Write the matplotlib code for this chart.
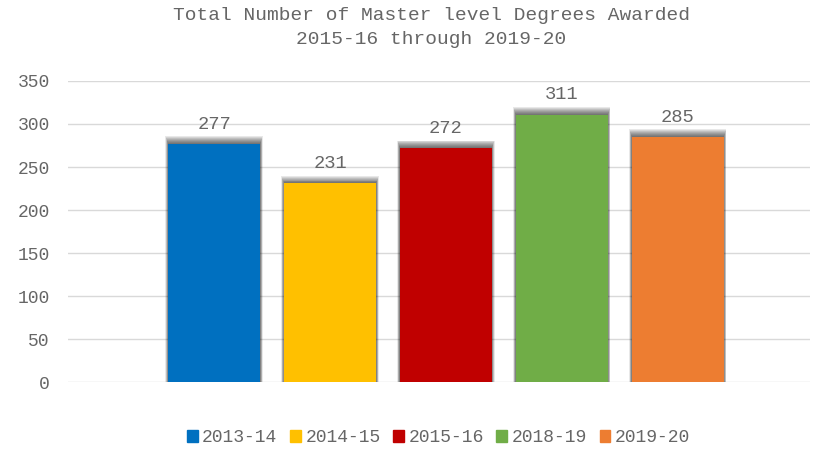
import matplotlib
matplotlib.use('Agg')
import matplotlib.pyplot as plt
from matplotlib.patches import Rectangle, Patch

years = ['2013-14', '2014-15', '2015-16', '2018-19', '2019-20']
degrees = [277, 231, 272, 311, 285]
colors = ['#0070C0', '#FFC000', '#C00000', '#70AD47', '#ED7D31']

txt = '#666666'
plt.rcParams['font.family'] = ['Liberation Mono', 'DejaVu Sans Mono']

fig = plt.figure(figsize=(8.15, 4.53), dpi=100)
ax = fig.add_axes([0.0834, 0.1567, 0.9105, 0.6645])

x = list(range(len(years)))
w = 0.79

# soft shadow, mostly above the top of each bar
for xi, v in zip(x, degrees):
    for k in range(8):
        pad = 0.003 * (8 - k)
        ax.add_patch(Rectangle((xi - w / 2 - pad, 0), w + 2 * pad, v + 1.1 * (8 - k),
                               color='black', alpha=0.09, lw=0, zorder=2))

ax.bar(x, degrees, width=w, color=colors, zorder=3)

for xi, v in zip(x, degrees):
    ax.annotate(str(v), (xi, v), xytext=(0, 8), textcoords='offset points',
                ha='center', va='bottom', fontsize=13.5, color=txt)

ax.set_xlim(-1.26, 5.14)
ax.set_ylim(0, 350)
ax.set_yticks(range(0, 351, 50))
ax.set_xticks([])
ax.grid(axis='y', color='#d9d9d9', lw=1)
ax.set_axisbelow(True)
for s in ax.spines.values():
    s.set_visible(False)
ax.tick_params(axis='y', length=0, pad=13, labelsize=13, labelcolor=txt)

fig.text(0.529, 1 - 16 / 453, 'Total Number of Master level Degrees Awarded',
         ha='center', va='center', fontsize=14, color=txt)
fig.text(0.529, 1 - 40 / 453, '2015-16 through 2019-20',
         ha='center', va='center', fontsize=14, color=txt)

handles = [Patch(color=c, label=y) for c, y in zip(colors, years)]
fig.legend(handles=handles, loc='center', bbox_to_anchor=(0.538, 1 - 438 / 453),
           ncol=5, frameon=False, fontsize=13, labelcolor=txt,
           handlelength=0.6, handleheight=0.6, handletextpad=0.25, columnspacing=0.7)

plt.savefig('out.png', dpi=100)
